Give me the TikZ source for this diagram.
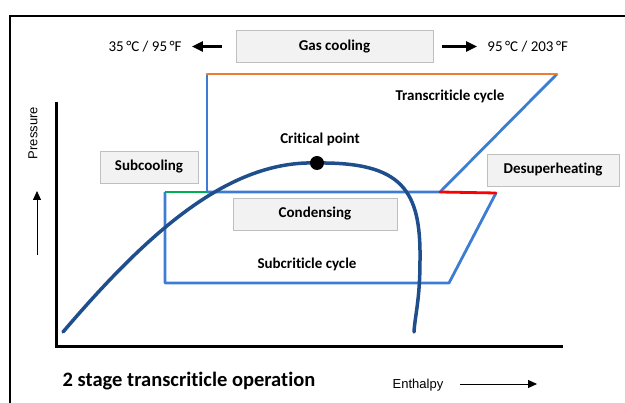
\documentclass[tikz,border=0pt]{standalone}
\usepackage{fontspec}
\setmainfont{Carlito}[Ligatures=NoCommon]
\newfontfamily\arialfont{Liberation Sans}
\usepackage{xcolor}
\usetikzlibrary{arrows,arrows.meta,positioning,calc}
\definecolor{cycleblue}{HTML}{3C7DD4}
\definecolor{domeblue}{HTML}{1F4E8C}
\definecolor{gcorange}{HTML}{ED7D31}
\definecolor{subgreen}{HTML}{00B050}
\definecolor{shred}{HTML}{FF0000}
\definecolor{boxgray}{HTML}{F2F2F2}
\definecolor{boxline}{HTML}{BFBFBF}

\begin{document}
\begin{tikzpicture}[
    x=1pt, y=-1pt,
    stagebox/.style={rectangle, draw=boxline, fill=boxgray, minimum height=32pt, inner sep=0pt, font=\fontsize{15}{18}\selectfont\bfseries},
    note/.style={inner sep=0pt, font=\fontsize{15}{18}\selectfont\bfseries},
    temp/.style={inner sep=0pt, font=\fontsize{15}{18}\selectfont},
    axislabel/.style={inner sep=0pt, font=\fontsize{13}{15}\selectfont\arialfont},
    cycleline/.style={draw=cycleblue, line width=2.8pt, line join=round},
    fatarrow/.style={draw, -{Triangle[length=11pt,width=10pt]}, line width=2.5pt},
    thinarrow/.style={draw, -{Triangle[length=9pt,width=8pt]}, line width=0.8pt}
]
\useasboundingbox (0,0) rectangle (625,403);

% Frame
\draw [line width=2pt] (10,403) -- (10,16) -- (625,16);

% Nodes
\node [stagebox, minimum width=197pt] (gascool) at (334.5,46.5) {Gas cooling};
\node [temp, left=54pt of gascool] (lowtemp) {35\,°C / 95\,°F};
\node [temp, right=54pt of gascool] (hightemp) {95\,°C / 203\,°F};
\node [stagebox, minimum width=98pt] (subcool) at (149,167) {Subcooling};
\node [stagebox, minimum width=164pt] (condense) at (315,214) {Condensing};
\node [stagebox, minimum width=132pt] (desuper) at (553,170) {Desuperheating};
\node [note] (critlabel) at (320,139) {Critical point};
\node [note] (translabel) at (450,96) {Transcriticle cycle};
\node [note] (sublabel) at (307,264) {Subcriticle cycle};
\node [inner sep=0pt, font=\fontsize{20.5}{24}\selectfont\bfseries] (title) at (189,381) {2 stage transcriticle operation};
\node [axislabel, rotate=90] (pressure) at (33,133) {Pressure};
\node [axislabel] (enthalpy) at (418,385) {Enthalpy};

% Axes
\coordinate (ytop) at (56,102);
\coordinate (origin) at (56,347);
\coordinate (xend) at (563,347);
\draw [line width=3pt] (ytop) -- (origin) -- (xend);
\coordinate (pbot) at (37,255);
\coordinate (ptop) at (37,191);
\path [thinarrow] (pbot) -- (ptop);
\coordinate (eend) at (537,384);
\path [thinarrow, shorten <=17pt] (enthalpy.east |- eend) -- (eend);

% Cycle corners
\coordinate (tcA) at (207,74);
\coordinate (tcB) at (557,74);
\coordinate (cdA) at (207,192);
\coordinate (cdB) at (440,192);
\coordinate (scA) at (165,192);
\coordinate (scB) at (496,193);
\coordinate (scC) at (449,283);
\coordinate (scD) at (165,283);

% Connectors
\path [fatarrow, shorten <=14pt, shorten >=10pt] (gascool.west) -- (lowtemp.east);
\path [fatarrow, shorten <=9pt, shorten >=10pt] (gascool.east) -- (hightemp.west);
\path [cycleline] (cdA) -- (tcA);
\path [cycleline] (tcB) -- (cdB) -- (cdA);
\path [cycleline] (scB) -- (scC) -- (scD) -- (scA);
\draw [gcorange, line width=2.8pt, line cap=round] (tcA) -- (tcB);
\draw [subgreen, line width=2.8pt] (scA) -- (cdA);
\draw [shred, line width=2.8pt, line cap=round] (cdB) -- (scB);

% Saturation dome
\draw [domeblue, line width=3.5pt, line cap=round]
  (63,332) .. controls (150,230) and (230,160) .. (317,163)
  .. controls (402,162) and (421,190) .. (420,260)
  .. controls (420,300) and (415,315) .. (414,332);
\fill (317,163) circle (7pt);

\end{tikzpicture}
\end{document}
